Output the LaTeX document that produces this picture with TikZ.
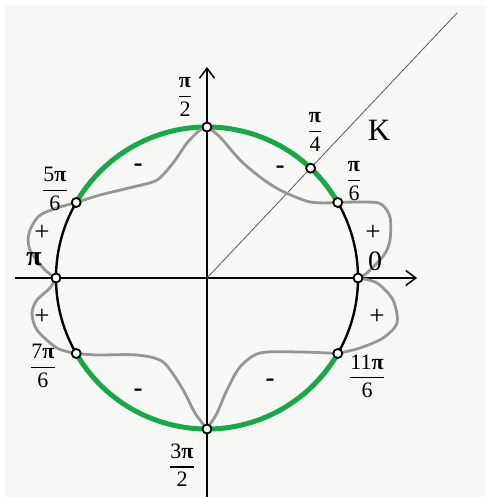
\documentclass[tikz,border=0pt]{standalone}
\usepackage{amsmath}
\usepackage{fontspec}
\setmainfont{Liberation Serif}
\usetikzlibrary{arrows.meta,calc}

\definecolor{bgGray}{RGB}{247,247,245}
\definecolor{signGreen}{RGB}{24,168,72}
\definecolor{curveGray}{RGB}{150,150,150}
\newcommand{\frc}[2]{$\genfrac{}{}{1.1pt}{0}{\mbox{#1}}{\mbox{#2}}$}
\newcommand{\bpi}{\textbf{π}}

\begin{document}
\begin{tikzpicture}[
    x=1pt, y=1pt,
    axis/.style={draw=black, line width=1.6pt, -{Straight Barb[length=10pt, width=15pt, line width=1.5pt]}},
    unitCircle/.style={draw=black, line width=2.4pt},
    greenArc/.style={draw=signGreen, line width=5pt},
    signCurve/.style={draw=curveGray, line width=2.8pt, line join=round},
    kLine/.style={draw=black!65, line width=0.8pt},
    openDot/.style={circle, draw=black, fill=white, line width=1.8pt, minimum size=9pt, inner sep=0pt},
    lbl/.style={font=\fontsize{22}{24}\selectfont, inner sep=0pt},
    bigLbl/.style={font=\fontsize{28}{30}\selectfont, inner sep=0pt},
    sign/.style={font=\fontsize{27}{29}\selectfont, inner sep=0pt}
]

% Background
\useasboundingbox (-207,278) rectangle (278,-219);
\fill[bgGray] (-202,273) rectangle (278,-219);

% Axes
\coordinate (O) at (0,0);
\coordinate (xL) at (-192,0);
\coordinate (xR) at (210,0);
\coordinate (yB) at (0,-219);
\coordinate (yT) at (0,211);
\draw[axis] (xL) -- (xR);
\draw[axis] (yB) -- (yT);

% Line K
\coordinate (kEnd) at (250,265);
\draw[kLine] (O) -- (kEnd);

% Points on the circle
\coordinate (p0) at (0:151);
\coordinate (p30) at (30:151);
\coordinate (p45) at ($(O)!151pt!(kEnd)$);
\coordinate (p90) at (90:151);
\coordinate (p150) at (150:151);
\coordinate (p180) at (180:151);
\coordinate (p210) at (210:151);
\coordinate (p270) at (270:151);
\coordinate (p330) at (330:151);

% Circle and green arcs
\draw[unitCircle] (O) circle[radius=151];
\draw[greenArc] (p30) arc[start angle=30, end angle=150, radius=151];
\draw[greenArc] (p210) arc[start angle=210, end angle=330, radius=151];

% Sign curve
\draw[signCurve] plot[smooth] coordinates {(p90) (13,141) (33,118) (53,101) (73,88) (103,76) (p30)};
\draw[signCurve] plot[smooth] coordinates {(p30) (158,76) (174,74) (183,61) (183,38) (177,23) (160,5) (p0)};
\draw[signCurve] plot[smooth] coordinates {(p0) (170,-5) (186,-22) (190,-45) (176,-60) (153,-70) (p330)};
\draw[signCurve] plot[smooth] coordinates {(p330) (93,-74) (53,-75) (33,-89) (20,-112) (10,-135) (p270)};
\draw[signCurve] plot[smooth] coordinates {(p270) (-12,-135) (-25,-110) (-44,-84) (-70,-77) (-110,-77) (p210)};
\draw[signCurve] plot[smooth] coordinates {(p210) (-150,-70) (-170,-52) (-175,-35) (-170,-22) (-157,-10) (p180)};
\draw[signCurve] plot[smooth] coordinates {(p180) (-162,8) (-177,28) (-178,45) (-168,62) (-150,70) (p150)};
\draw[signCurve] plot[smooth] coordinates {(p150) (-107,83) (-74,91) (-50,98) (-34,115) (-20,135) (-7,148) (p90)};

% Open dots
\foreach \p in {p0,p30,p45,p90,p150,p180,p210,p270,p330}
    \node[openDot] (d\p) at (\p) {};

% Labels
\node[lbl] (l90) at (-22,181) {\frc{\bpi}{2}};
\node[lbl] (l150) at (-152,89) {\frc{5\bpi}{6}};
\node[bigLbl] (l180) at (-173,19) {\bpi};
\node[lbl] (l210) at (-164,-88) {\frc{7\bpi}{6}};
\node[lbl] (l270) at (-25,-187) {\frc{3\bpi}{2}};
\node[lbl] (l330) at (160,-98) {\frc{11\bpi}{6}};
\node[bigLbl] (l0) at (168,17) {0};
\node[lbl] (l30) at (147,97) {\frc{\bpi}{6}};
\node[lbl] (l45) at (108,146) {\frc{\bpi}{4}};
\node[bigLbl, font=\fontsize{31}{33}\selectfont] (lK) at (172,148) {K};

% Signs
\node[sign] (mUL) at (-69,110) {\textbf{-}};
\node[sign] (mUR) at (73,108) {\textbf{-}};
\node[sign] (mLL) at (-69,-115) {\textbf{-}};
\node[sign] (mLR) at (63,-105) {\textbf{-}};
\node[sign] (pUR) at (166,45) {+};
\node[sign] (pLR) at (170,-39) {+};
\node[sign] (pUL) at (-165,45) {+};
\node[sign] (pLL) at (-165,-39) {+};

\end{tikzpicture}
\end{document}
